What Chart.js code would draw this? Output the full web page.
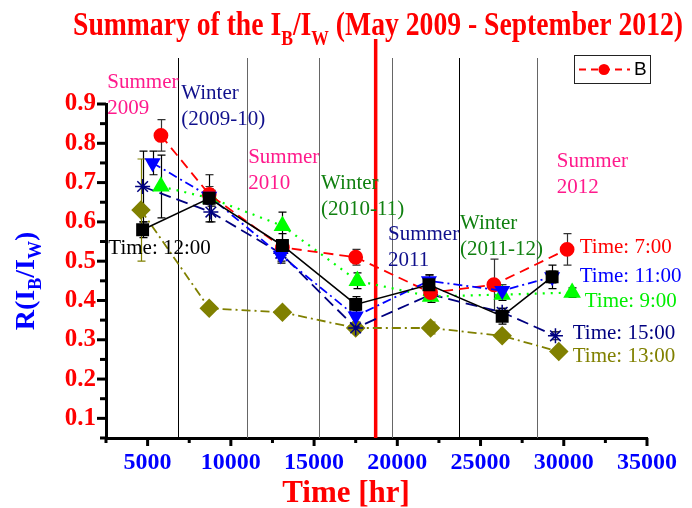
<!DOCTYPE html>
<html>
<head>
<meta charset="utf-8">
<script src="https://cdn.jsdelivr.net/npm/chart.js@4.4.1/dist/chart.umd.min.js"></script>
<style>
  html, body { margin: 0; padding: 0; background: #fff; }
  #wrap { width: 692px; height: 508px; }
</style>
</head>
<body>
<div id="wrap"><canvas id="chart" width="692" height="508"></canvas></div>
<script>
// R(IB/IW) per time of day, x = elapsed time [hr]
const hours12 = [4700, 8700, 13100, 17500, 21900, 26300, 29300];
const ratio12 = [0.58, 0.66, 0.54, 0.39, 0.44, 0.36, 0.46];
const err12   = [0.02, 0.06, 0.03, 0.02, 0.025, 0.02, 0.03];

const hours11 = [5300, 8700, 13000, 17500, 21900, 26300, 29300];
const ratio11 = [0.75, 0.665, 0.515, 0.36, 0.45, 0.425, 0.46];
const err11   = [0.03, 0.02, 0.02, 0.015, 0.015, 0.015, 0.015];

const hours7  = [5800, 8700, 13100, 17500, 22000, 25800, 30200];
const ratio7  = [0.82, 0.67, 0.535, 0.51, 0.42, 0.44, 0.53];
const err7    = [0.04, 0.02, 0.02, 0.02, 0.015, 0.065, 0.04];

const hours9  = [5800, 8800, 13100, 17600, 22000, 26300, 30500];
const ratio9  = [0.69, 0.66, 0.59, 0.45, 0.41, 0.415, 0.42];
const err9    = [0.08, 0.02, 0.035, 0.02, 0.015, 0.015, 0.012];

const hours15 = [4700, 8800, 13000, 17500, 22000, 26300, 29500];
const ratio15 = [0.69, 0.625, 0.52, 0.33, 0.415, 0.37, 0.31];
const err15   = [0.09, 0.025, 0.02, 0.01, 0.01, 0.01, 0.01];

const hours13 = [4600, 8700, 13100, 17500, 22000, 26300, 29700];
const ratio13 = [0.63, 0.38, 0.37, 0.33, 0.33, 0.31, 0.27];
const err13   = [0.13, 0.01, 0.01, 0.01, 0.015, 0.01, 0.01];

const xTickLabels = ['5000', '10000', '15000', '20000', '25000', '30000', '35000'];
const yTickLabels = ['0.1', '0.2', '0.3', '0.4', '0.5', '0.6', '0.7', '0.8', '0.9'];

// season borders [hr] and the red marker line
const seasonBounds = [6800, 11000, 15300, 19700, 23700, 28400];
const boundColors  = ['#000', '#666', '#666', '#666', '#000', '#666'];
const markHour     = 18700;

const seasonTop    = ['Summer', 'Winter', 'Summer', 'Winter', 'Summer', 'Winter', 'Summer'];
const seasonBottom = ['2009', '(2009-10)', '2010', '(2010-11)', '2011', '(2011-12)', '2012'];
const seasonHour   = [2580, 7020, 11040, 15420, 19440, 23760, 29580];
const seasonR      = [0.94, 0.912, 0.75, 0.684, 0.554, 0.582, 0.739];
const seasonColors = ['#ff1a8c', '#10108c', '#ff1a8c', '#108010', '#10108c', '#108010', '#ff1a8c'];

const timeLabels = ['Time: 7:00', 'Time: 11:00', 'Time: 9:00', 'Time: 15:00', 'Time: 13:00', 'Time: 12:00'];
const timeHour   = [30960, 30960, 31260, 30540, 30540, 2640];
const timeR      = [0.521, 0.447, 0.383, 0.302, 0.243, 0.518];
const timeColors = ['#ff0000', '#0000ff', '#00ee00', '#000080', '#808000', '#000000'];

const legendLabel = 'B';
const xTitle = 'Time [hr]';

const SERIF = '"Liberation Serif", "Times New Roman", serif';

const pts = (xs, ys) => xs.map((x, i) => ({ x, y: ys[i] }));

const datasets = [
  { label: 'Time: 12:00', data: pts(hours12, ratio12), err: err12, errColor: '#000',
    borderColor: '#000', backgroundColor: '#000', borderWidth: 1.6,
    pointStyle: 'rect', pointRadius: 8 },
  { label: 'Time: 11:00', data: pts(hours11, ratio11), err: err11, errColor: '#000',
    borderColor: '#0000ff', backgroundColor: '#0000ff', borderWidth: 1.8, borderDash: [9, 4, 2, 4],
    pointStyle: 'triangle', pointRotation: 180, pointRadius: 7.5 },
  { label: 'Time: 7:00', data: pts(hours7, ratio7), err: err7, errColor: '#333',
    borderColor: '#ff0000', backgroundColor: '#ff0000', borderWidth: 1.8, borderDash: [10, 6],
    pointStyle: 'circle', pointRadius: 6.5 },
  { label: 'Time: 9:00', data: pts(hours9, ratio9), err: err9, errColor: '#000',
    borderColor: '#00ff00', backgroundColor: '#00ff00', borderWidth: 2.2, borderDash: [2, 6],
    pointStyle: 'triangle', pointRadius: 8 },
  { label: 'Time: 15:00', data: pts(hours15, ratio15), err: err15, errColor: '#000',
    borderColor: '#000080', backgroundColor: '#000080', borderWidth: 1.8, borderDash: [12, 6],
    pointStyle: 'star', pointRadius: 7.5, pointBorderWidth: 1.5 },
  { label: 'Time: 13:00', data: pts(hours13, ratio13), err: err13, errColor: '#808000',
    borderColor: '#808000', backgroundColor: '#808000', borderWidth: 1.8, borderDash: [9, 4, 2, 4],
    pointStyle: 'rectRot', pointRadius: 8.5 }
];
datasets.forEach(d => { d.showLine = true; d.fill = false; d.tension = 0; d.pointBorderColor = d.borderColor; });

const xMajor = xTickLabels.map(Number);
const xTicks = [2500];
xMajor.forEach(v => { if (v - 2500 > 2500) xTicks.push(v - 2500); xTicks.push(v); });
const yMajor = yTickLabels.map(Number);
const yTicks = [];
yMajor.forEach(v => { yTicks.push(+(v - 0.05).toFixed(2)); yTicks.push(v); });

function drawPieces(ctx, pieces, x, y) {
  let cx = x;
  pieces.forEach(p => {
    ctx.font = p.font;
    ctx.fillText(p.text, cx, y + (p.dy || 0));
    cx += ctx.measureText(p.text).width;
  });
  return cx - x;
}
function piecesWidth(ctx, pieces) {
  return pieces.reduce((s, p) => { ctx.font = p.font; return s + ctx.measureText(p.text).width; }, 0);
}

const overlay = {
  id: 'overlay',
  beforeDatasetsDraw(chart) {
    const { ctx, scales: { x, y } } = chart;
    ctx.save();
    seasonBounds.forEach((h, i) => {
      const px = Math.round(x.getPixelForValue(h)) + 0.5;
      ctx.strokeStyle = boundColors[i];
      ctx.lineWidth = 1;
      ctx.beginPath(); ctx.moveTo(px, 58); ctx.lineTo(px, y.bottom); ctx.stroke();
    });
    const mx = x.getPixelForValue(markHour);
    ctx.strokeStyle = '#ff0000';
    ctx.lineWidth = 3.5;
    ctx.beginPath(); ctx.moveTo(mx, 39); ctx.lineTo(mx, y.bottom); ctx.stroke();

    // error bars
    chart.data.datasets.forEach(ds => {
      ctx.strokeStyle = ds.errColor;
      ctx.lineWidth = 1.2;
      ds.data.forEach((p, i) => {
        const px = Math.round(x.getPixelForValue(p.x)) + 0.5;
        const top = y.getPixelForValue(p.y + ds.err[i]);
        const bot = y.getPixelForValue(p.y - ds.err[i]);
        ctx.beginPath();
        ctx.moveTo(px, top); ctx.lineTo(px, bot);
        ctx.moveTo(px - 4, top); ctx.lineTo(px + 4, top);
        ctx.moveTo(px - 4, bot); ctx.lineTo(px + 4, bot);
        ctx.stroke();
      });
    });
    ctx.restore();
  },
  afterDraw(chart) {
    const { ctx, scales: { x, y } } = chart;
    ctx.save();

    // tick marks
    ctx.strokeStyle = '#000';
    ctx.lineWidth = 3;
    x.ticks.forEach(t => {
      const px = x.getPixelForValue(t.value);
      const len = xTickLabels.includes(String(t.value)) ? 8 : 5;
      ctx.beginPath(); ctx.moveTo(px, y.bottom); ctx.lineTo(px, y.bottom + len); ctx.stroke();
    });
    y.ticks.forEach(t => {
      const py = y.getPixelForValue(t.value);
      const len = yTickLabels.includes(t.value.toFixed(1)) && Math.abs(t.value * 10 - Math.round(t.value * 10)) < 1e-6 ? 9 : 6;
      ctx.beginPath(); ctx.moveTo(x.left, py); ctx.lineTo(x.left - len, py); ctx.stroke();
    });

    // title
    ctx.fillStyle = '#ff0000';
    ctx.textBaseline = 'alphabetic';
    ctx.textAlign = 'left';
    const big = 'bold 33px ' + SERIF, sub = 'bold 21px ' + SERIF;
    const title = [
      { text: 'Summary of the I', font: big },
      { text: 'B', font: sub, dy: 10 },
      { text: '/I', font: big },
      { text: 'W', font: sub, dy: 10 },
      { text: ' (May 2009 - September 2012)', font: big }
    ];
    const tw = piecesWidth(ctx, title);
    ctx.save();
    ctx.translate(73, 35);
    ctx.scale(610 / tw, 1);
    drawPieces(ctx, title, 0, 0);
    ctx.restore();

    // x axis title
    ctx.font = 'bold 31px ' + SERIF;
    ctx.textAlign = 'center';
    ctx.fillText(xTitle, 346, 502);
    ctx.textAlign = 'left';

    // y axis title
    ctx.fillStyle = '#0000ff';
    const yb = 'bold 28px ' + SERIF, ys = 'bold 18px ' + SERIF;
    const yt = [
      { text: 'R(I', font: yb },
      { text: 'B', font: ys, dy: 7 },
      { text: '/I', font: yb },
      { text: 'W', font: ys, dy: 7 },
      { text: ')', font: yb }
    ];
    const yw = piecesWidth(ctx, yt);
    ctx.save();
    ctx.translate(34, 281);
    ctx.rotate(-Math.PI / 2);
    drawPieces(ctx, yt, -yw / 2, 0);
    ctx.restore();

    // season labels
    ctx.font = '21px ' + SERIF;
    seasonTop.forEach((s, i) => {
      const px = x.getPixelForValue(seasonHour[i]);
      const py = y.getPixelForValue(seasonR[i]);
      ctx.fillStyle = seasonColors[i];
      ctx.fillText(s, px, py);
      ctx.fillText(seasonBottom[i], px, py + 26);
    });

    // series labels
    ctx.font = '21px ' + SERIF;
    timeLabels.forEach((s, i) => {
      ctx.fillStyle = timeColors[i];
      ctx.fillText(s, x.getPixelForValue(timeHour[i]), y.getPixelForValue(timeR[i]));
    });

    // legend box
    ctx.fillStyle = '#fff';
    ctx.fillRect(574.5, 55.5, 76, 28);
    ctx.strokeStyle = '#222';
    ctx.lineWidth = 1;
    ctx.strokeRect(574.5, 55.5, 76, 28);
    ctx.strokeStyle = '#ff0000';
    ctx.lineWidth = 1.8;
    ctx.setLineDash([7, 5]);
    ctx.beginPath(); ctx.moveTo(579, 69.5); ctx.lineTo(630, 69.5); ctx.stroke();
    ctx.setLineDash([]);
    ctx.fillStyle = '#ff0000';
    ctx.beginPath(); ctx.arc(604, 69.5, 5.5, 0, Math.PI * 2); ctx.fill();
    ctx.fillStyle = '#000';
    ctx.font = '19px "Liberation Sans", Arial, sans-serif';
    ctx.textBaseline = 'middle';
    ctx.fillText(legendLabel, 634, 70);
    ctx.restore();
  }
};

new Chart(document.getElementById('chart'), {
  type: 'scatter',
  data: { datasets },
  options: {
    responsive: false,
    animation: false,
    layout: { padding: { top: 104, right: 45, left: 0, bottom: 0 } },
    plugins: { legend: { display: false }, tooltip: { enabled: false } },
    scales: {
      x: {
        type: 'linear', min: 2500, max: 35000,
        afterBuildTicks: s => { s.ticks = xTicks.map(v => ({ value: v })); },
        afterFit: s => { s.height = 70; },
        grid: { display: false, drawTicks: false },
        border: { display: true, color: '#000', width: 3 },
        ticks: {
          autoSkip: false, maxRotation: 0, padding: 10, color: '#0000ff',
          font: { family: SERIF, size: 24, weight: 'bold' },
          callback: v => (xTickLabels.includes(String(v)) ? String(v) : '')
        }
      },
      y: {
        type: 'linear', min: 0.05, max: 0.9,
        afterBuildTicks: s => { s.ticks = yTicks.map(v => ({ value: v })); },
        afterFit: s => { s.width = 106; },
        grid: { display: false, drawTicks: false },
        border: { display: true, color: '#000', width: 3 },
        ticks: {
          autoSkip: false, padding: 10, color: '#ff0000',
          font: { family: SERIF, size: 25, weight: 'bold' },
          callback: v => {
            const s = (+v).toFixed(2);
            return s.endsWith('0') && yTickLabels.includes((+v).toFixed(1)) ? (+v).toFixed(1) : '';
          }
        }
      }
    }
  },
  plugins: [overlay]
});
</script>
</body>
</html>
